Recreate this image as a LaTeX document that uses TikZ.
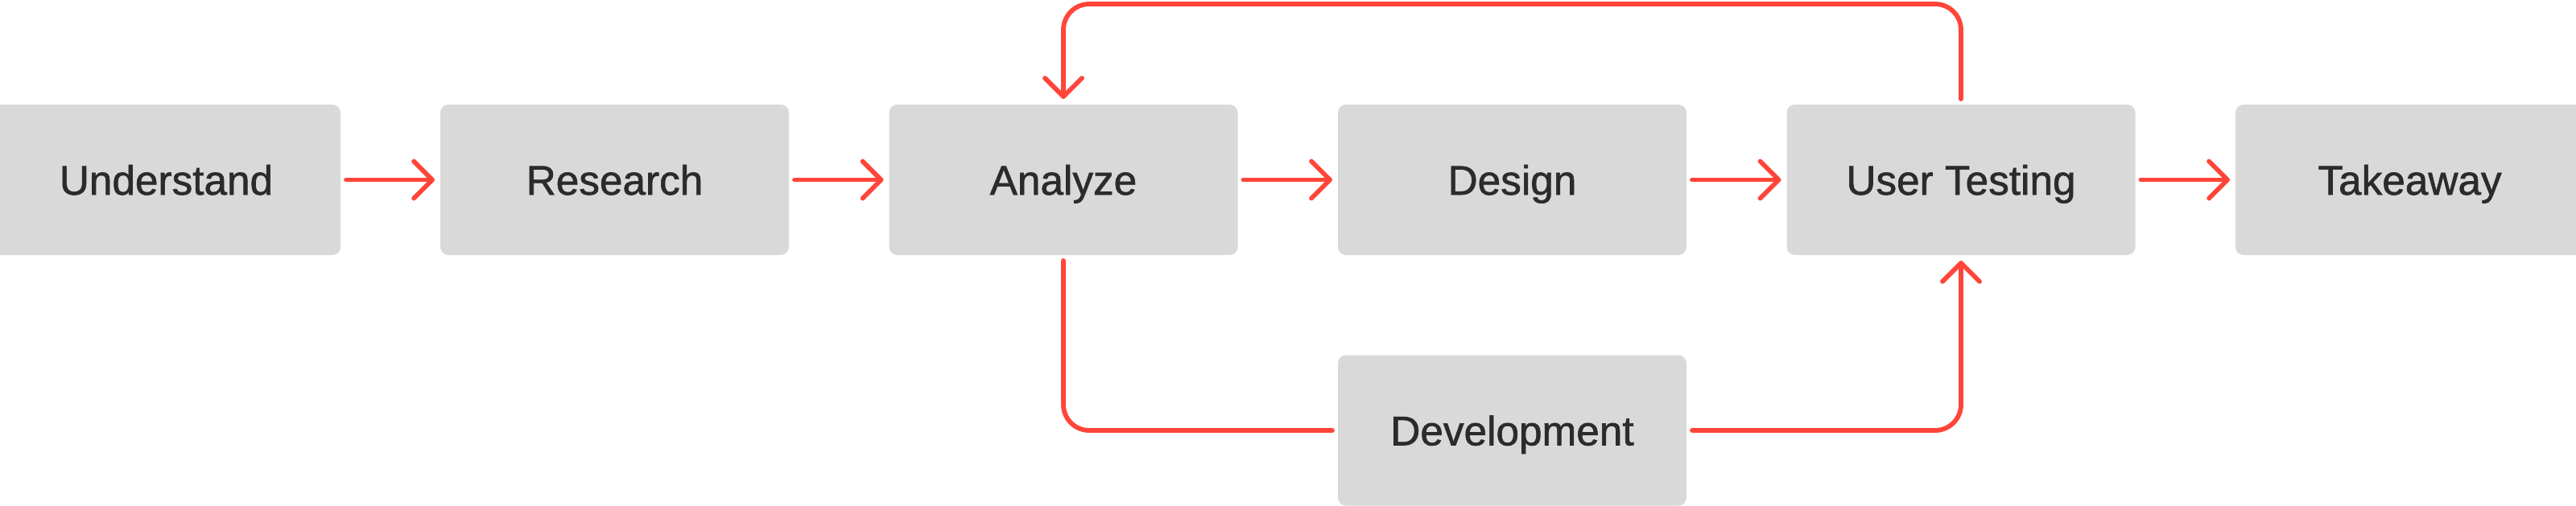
\documentclass[tikz,border=0pt]{standalone}
\usepackage{fontspec}
\setmainfont{Liberation Sans}
\newfontfamily\boxfont{Liberation Sans}[BoldFont={Liberation Sans},BoldFeatures={FakeBold=1.2}]
\usetikzlibrary{arrows.meta}
\definecolor{boxgray}{HTML}{D9D9D9}
\definecolor{flowred}{HTML}{FF453A}
\definecolor{labelgray}{HTML}{2B2B2B}
\begin{document}
\begin{tikzpicture}[x=1cm,y=1cm,
  stage/.style={fill=boxgray,rounded corners=0.1cm,minimum width=4.33cm,minimum height=1.87cm,
    inner sep=0pt,outer sep=0.07cm,text=labelgray,font=\boxfont\bfseries\fontsize{14.6}{17}\selectfont,
    text height=0.37cm,text depth=0pt},
  link/.style={draw=flowred,line width=0.058cm,line cap=round,line join=round,rounded corners=0.32cm},
  flow/.style={link,-{Straight Barb[length=0.23cm,width=0.46cm,line cap=round,line join=round]}}]
  \clip (0,0) rectangle (32,6.28);
  \node[stage] (und) at (2.065,4.045) {Understand};
  \node[stage] (res) at (7.635,4.045) {Research};
  \node[stage] (an) at (13.21,4.045) {Analyze};
  \node[stage] (des) at (18.785,4.045) {Design};
  \node[stage] (ut) at (24.36,4.045) {User Testing};
  \node[stage] (take) at (29.935,4.045) {Takeaway};
  \node[stage] (dev) at (18.785,0.93) {Development};
  \coordinate (top) at (0,6.23);
  \draw[flow] (und) -- (res);
  \draw[flow] (res) -- (an);
  \draw[flow] (an) -- (des);
  \draw[flow] (des) -- (ut);
  \draw[flow] (ut) -- (take);
  \draw[flow] (ut.north) -- (ut.north |- top) -- (an.north |- top) -- (an.north);
  \draw[link] (an.south) |- (dev.west);
  \draw[flow] (dev.east) -| (ut.south);
\end{tikzpicture}
\end{document}
